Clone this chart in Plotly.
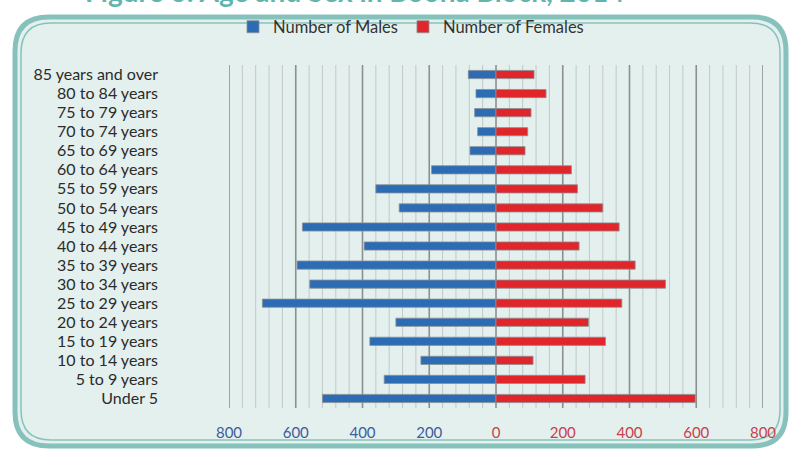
import plotly.graph_objects as go

# Age groups listed from youngest (bottom) to oldest (top)
age_groups = [
    "Under 5", "5 to 9 years", "10 to 14 years", "15 to 19 years",
    "20 to 24 years", "25 to 29 years", "30 to 34 years", "35 to 39 years",
    "40 to 44 years", "45 to 49 years", "50 to 54 years", "55 to 59 years",
    "60 to 64 years", "65 to 69 years", "70 to 74 years", "75 to 79 years",
    "80 to 84 years", "85 years and over",
]
males = [520, 335, 225, 378, 300, 700, 558, 596, 395, 580, 290, 360,
         193, 78, 55, 64, 60, 83]
females = [597, 267, 111, 328, 277, 377, 508, 417, 249, 369, 320, 244,
           226, 87, 95, 105, 150, 114]

tick_vals = [-800, -600, -400, -200, 0, 200, 400, 600, 800]
tick_text = ["800", "600", "400", "200", "0", "200", "400", "600", "800"]

BLUE = "#2b6cb4"
RED = "#e0262b"
BLUE_TXT = "#3d5c9c"
RED_TXT = "#c8404a"
TEAL = "#86c2bb"

fig = go.Figure()
fig.add_trace(go.Bar(
    y=age_groups, x=[-v for v in males], orientation="h",
    name="Number of Males", marker=dict(color=BLUE, line=dict(color="#8a8f96", width=0.8)),
))
fig.add_trace(go.Bar(
    y=age_groups, x=females, orientation="h",
    name="Number of Females", marker=dict(color=RED, line=dict(color="#8a8f96", width=0.8)),
))

# plot-area geometry in pixels, used to place the frame in paper units
W, H = 791, 453
L, R, T, B = 229, 763, 65, 408


def px(x):
    return (x - L) / (R - L)


def py(y):
    return (B - y) / (B - T)


def rounded(x0, y0, x1, y1, r):
    return (f"M {px(x0 + r)},{py(y0)} L {px(x1 - r)},{py(y0)} "
            f"Q {px(x1)},{py(y0)} {px(x1)},{py(y0 + r)} "
            f"L {px(x1)},{py(y1 - r)} Q {px(x1)},{py(y1)} {px(x1 - r)},{py(y1)} "
            f"L {px(x0 + r)},{py(y1)} Q {px(x0)},{py(y1)} {px(x0)},{py(y1 - r)} "
            f"L {px(x0)},{py(y0 + r)} Q {px(x0)},{py(y0)} {px(x0 + r)},{py(y0)} Z")


shapes = [
    dict(type="path", xref="paper", yref="paper", layer="below",
         path=rounded(15, 17, 786, 446, 34), fillcolor="#e3f0ee",
         line=dict(color=TEAL, width=5)),
    dict(type="path", xref="paper", yref="paper", layer="below",
         path=rounded(21, 23, 780, 440, 30), fillcolor="rgba(0,0,0,0)",
         line=dict(color=TEAL, width=1.5)),
]

# minor gridlines every 40, major every 200
for v in range(-800, 801, 40):
    major = v % 200 == 0
    shapes.append(dict(
        type="line", xref="x", yref="paper", x0=v, x1=v, y0=0, y1=1,
        layer="below",
        line=dict(color="#8c9090" if major else "#c3c8c8", width=1.6 if major else 1),
    ))

fig.update_layout(
    width=W, height=H,
    margin=dict(l=L, r=W - R, t=T, b=H - B, autoexpand=False),
    paper_bgcolor="white",
    plot_bgcolor="rgba(0,0,0,0)",
    barmode="relative",
    bargap=0.57,
    shapes=shapes,
    font=dict(family="Lato, sans-serif", size=14, color="#2b2b2b"),
    legend=dict(orientation="h", x=px(411), y=py(27), xanchor="center", yanchor="middle",
                font=dict(size=16.5, color="#333333"), bgcolor="rgba(0,0,0,0)",
                itemwidth=30, traceorder="normal"),
    showlegend=True,
    xaxis=dict(range=[-800, 800], tickvals=tick_vals,
               ticktext=[f"<span style='color:{BLUE_TXT if v < 0 else RED_TXT}'>{t}</span>"
                         for v, t in zip(tick_vals, tick_text)],
               showgrid=False, zeroline=False, ticks="", showline=False,
               tickfont=dict(size=15), ticklabelstandoff=14, fixedrange=True),
    yaxis=dict(categoryorder="array", categoryarray=age_groups, range=[-0.5, 17.5],
               tickmode="array", tickvals=age_groups, ticktext=age_groups,
               showgrid=False, zeroline=False, ticks="", showline=False,
               ticklabelstandoff=70, tickfont=dict(size=16, color="#2b2b2b")),
    annotations=[dict(
        text="Figure 6: Age and Sex in Boona Block, 2014", xref="paper", yref="paper",
        x=px(354), y=py(-9), xanchor="center", yanchor="middle", showarrow=False,
        font=dict(size=28, color="#62b5ad", family="Lato, sans-serif", weight="bold"),
    )],
)

fig.write_html("out.html")
